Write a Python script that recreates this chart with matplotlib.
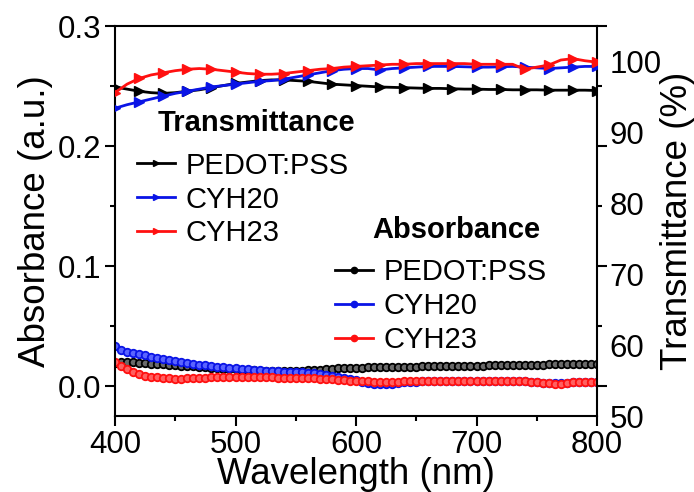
"""Absorbance and transmittance spectra of PEDOT:PSS, CYH20 and CYH23 films"""

import numpy as np
import matplotlib
matplotlib.use("Agg")
import matplotlib.pyplot as plt
from matplotlib.lines import Line2D

plt.rcParams["font.family"] = ["Liberation Sans", "DejaVu Sans"]

# transmittance (%), every 10 nm
wl_t = list(range(400, 801, 10))
t_pedot = [96.4, 96.1, 95.8, 95.6, 95.5, 95.6, 95.8, 96.0, 96.3, 96.6,
           96.9, 97.1, 97.3, 97.4, 97.4, 97.3, 97.2, 97.0, 96.8, 96.7,
           96.6, 96.5, 96.4, 96.35, 96.3, 96.25, 96.2, 96.2, 96.15, 96.1,
           96.1, 96.05, 96.05, 96.0, 96.0, 96.0, 95.95, 95.95, 95.95, 95.95,
           95.9]
t_cyh20 = [93.4, 93.9, 94.3, 94.7, 95.1, 95.5, 95.8, 96.1, 96.4, 96.6,
           96.8, 97.0, 97.2, 97.3, 97.5, 97.8, 98.1, 98.4, 98.7, 98.9,
           99.0, 99.0, 98.8, 99.0, 99.1, 99.2, 99.3, 99.3, 99.3, 99.25,
           99.2, 99.2, 99.25, 99.3, 99.2, 99.1, 99.0, 99.1, 99.2, 99.3,
           99.3]
t_cyh23 = [95.6, 96.8, 97.6, 98.1, 98.4, 98.7, 98.9, 99.0, 98.9, 98.7,
           98.5, 98.3, 98.2, 98.2, 98.3, 98.5, 98.7, 98.9, 99.0, 99.2,
           99.3, 99.4, 99.5, 99.6, 99.6, 99.7, 99.7, 99.7, 99.7, 99.7,
           99.6, 99.6, 99.6, 99.6, 98.9, 99.2, 99.5, 100.2, 100.4, 100.1,
           99.9]

# absorbance (a.u.), every 5 nm
wl_a = list(range(400, 801, 5))
a_pedot = [0.019, 0.020, 0.020, 0.0198, 0.0195, 0.019, 0.0187, 0.0184, 0.018, 0.0177,
           0.0174, 0.017, 0.0167, 0.0163, 0.016, 0.0156, 0.0152, 0.0148, 0.0145, 0.0141,
           0.0138, 0.0135, 0.0132, 0.013, 0.0128, 0.0126, 0.0125, 0.0124, 0.0124, 0.0125,
           0.0127, 0.0129, 0.0131, 0.0134, 0.0137, 0.014, 0.0143, 0.0146, 0.0148, 0.015,
           0.0152, 0.0154, 0.0155, 0.0156, 0.0157, 0.0158, 0.0159, 0.016, 0.016, 0.0161,
           0.0162, 0.0163, 0.0163, 0.0164, 0.0165, 0.0166, 0.0167, 0.0167, 0.0168, 0.0169,
           0.017, 0.017, 0.0171, 0.0172, 0.0173, 0.0174, 0.0175, 0.0176, 0.0177, 0.0178,
           0.0178, 0.0179, 0.018, 0.018, 0.0181, 0.0182, 0.0182, 0.0183, 0.0184, 0.0185,
           0.0185]
a_cyh20 = [0.033, 0.030, 0.0285, 0.0275, 0.0265, 0.0255, 0.0245, 0.0235, 0.0225, 0.0215,
           0.0205, 0.0197, 0.019, 0.0183, 0.0177, 0.0171, 0.0165, 0.016, 0.0155, 0.015,
           0.0146, 0.0142, 0.0138, 0.0134, 0.013, 0.0127, 0.0124, 0.0122, 0.012, 0.0118,
           0.0116, 0.0113, 0.011, 0.0105, 0.010, 0.0093, 0.0085, 0.0076, 0.0066, 0.0056,
           0.0046, 0.0035, 0.0025, 0.0018, 0.0015, 0.0016, 0.0019, 0.0024, 0.003, 0.0034,
           0.0037, 0.0039, 0.004, 0.0041, 0.0041, 0.0041, 0.004, 0.0039, 0.0039, 0.004,
           0.0041, 0.0043, 0.0044, 0.0044, 0.0043, 0.0042, 0.0041, 0.004, 0.0039, 0.0036,
           0.0032, 0.0027, 0.0023, 0.0021, 0.0022, 0.0026, 0.003, 0.0033, 0.0035, 0.0036,
           0.0036]
a_cyh23 = [0.020, 0.017, 0.014, 0.0115, 0.0098, 0.0086, 0.0077, 0.0071, 0.0066, 0.0063,
           0.0062, 0.0062, 0.0063, 0.0065, 0.0067, 0.0069, 0.0071, 0.0073, 0.0075, 0.0076,
           0.0077, 0.0077, 0.0076, 0.0075, 0.0074, 0.0072, 0.0071, 0.007, 0.0069, 0.0068,
           0.0067, 0.0066, 0.0065, 0.0063, 0.0061, 0.0058, 0.0055, 0.0052, 0.0048, 0.0045,
           0.0042, 0.004, 0.0038, 0.0037, 0.0036, 0.0036, 0.0036, 0.0037, 0.0038, 0.0039,
           0.004, 0.0041, 0.0042, 0.0042, 0.0042, 0.0042, 0.0041, 0.004, 0.004, 0.0041,
           0.0042, 0.0044, 0.0045, 0.0045, 0.0044, 0.0043, 0.0042, 0.0041, 0.004, 0.0037,
           0.0033, 0.0027, 0.0021, 0.0018, 0.002, 0.0025, 0.003, 0.0034, 0.0036, 0.0037,
           0.0037]

labels = ["PEDOT:PSS", "CYH20", "CYH23"]
colors = ["black", "#0a14e6", "#ff1010"]
light = ["#6a6a6a", "#5a64ff", "#ff6060"]


def main():
    fig = plt.figure(figsize=(6.94, 4.92), dpi=100)
    ax = fig.add_axes([115 / 694, 1 - 416 / 492, 482 / 694, 390 / 492])
    ax2 = ax.twinx()

    # absorbance, left axis
    for y, c, lc in zip([a_pedot, a_cyh20, a_cyh23], colors, light):
        ax.plot(wl_a, y, color=c, lw=1.2, marker="o", ms=5.4,
                mfc=lc, mec=c, mew=1.3, zorder=2)

    # transmittance, right axis
    for y, c in zip([t_pedot, t_cyh20, t_cyh23], colors):
        ax2.plot(wl_t, y, color=c, lw=2, marker=">", ms=6.5,
                 markevery=2, zorder=3)

    ax.set_xlim(400, 800)
    ax.set_ylim(-0.025, 0.3)
    ax2.set_ylim(50, 105)

    ax.set_xticks(np.arange(400, 801, 100))
    ax.set_xticks(np.arange(450, 800, 100), minor=True)
    ax.set_yticks([0.0, 0.1, 0.2, 0.3])
    ax.set_yticklabels(["0.0", "0.1", "0.2", "0.3"])
    ax.set_yticks([0.05, 0.15, 0.25], minor=True)
    ax2.set_yticks(np.arange(50, 101, 10))

    ax.tick_params(axis="both", which="major", direction="out", length=7,
                   width=1.5, labelsize=22.5, pad=3)
    ax.tick_params(axis="both", which="minor", direction="out", length=3.5,
                   width=1.5)
    ax.tick_params(axis="y", which="both", left=True, right=True,
                   labelright=False)
    ax.tick_params(axis="x", which="both", top=False)
    ax2.tick_params(axis="y", which="both", length=0, labelsize=22.5, pad=9)

    for s in ax.spines.values():
        s.set_linewidth(1.5)
    for s in ax2.spines.values():
        s.set_visible(False)

    ax.set_xlabel("Wavelength (nm)", fontsize=26.5, labelpad=-2)
    ax.set_ylabel("Absorbance (a.u.)", fontsize=26.5, labelpad=3)
    ax2.set_ylabel("Transmittance (%)", fontsize=26.5, labelpad=-1)

    # legends
    t_handles = [Line2D([], [], color=c, lw=2, marker=">", ms=5)
                 for c in colors]
    a_handles = [Line2D([], [], color=c, lw=2, marker="o", ms=4.5,
                        mfc=c, mec=c) for c in colors]
    leg_opts = dict(frameon=False, fontsize=21, handlelength=1.3,
                    handletextpad=0.35, labelspacing=0.2, borderpad=0,
                    borderaxespad=0, numpoints=1, loc="center left",
                    bbox_transform=fig.transFigure)
    leg1 = ax2.legend(t_handles, labels,
                      bbox_to_anchor=(137 / 694, 1 - 199.5 / 492), **leg_opts)
    ax2.add_artist(leg1)
    ax2.legend(a_handles, labels,
               bbox_to_anchor=(335 / 694, 1 - 306 / 492), **leg_opts)
    fig.text(158 / 694, 1 - 123 / 492, "Transmittance", fontsize=21,
             fontweight="bold", va="center", ha="left")
    fig.text(372 / 694, 1 - 230 / 492, "Absorbance", fontsize=21,
             fontweight="bold", va="center", ha="left")

    fig.savefig("out.png", dpi=100)


if __name__ == "__main__":
    main()
